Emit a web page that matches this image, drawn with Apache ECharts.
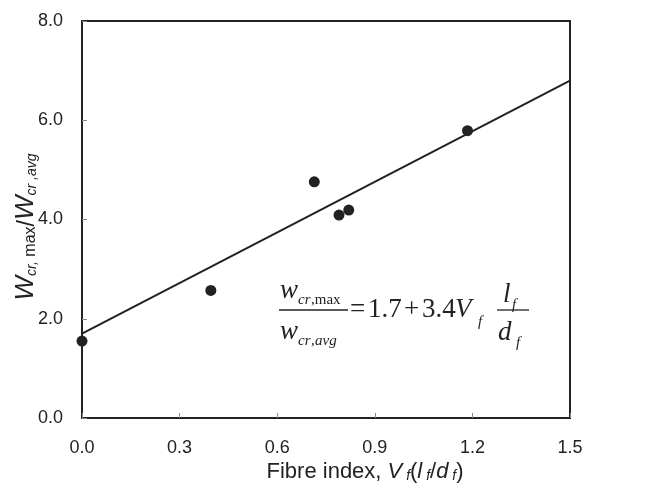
<!DOCTYPE html>
<html>
<head>
<meta charset="utf-8">
<script src="https://cdn.jsdelivr.net/npm/echarts@6/dist/echarts.min.js"></script>
<style>
html,body{margin:0;padding:0;background:#fff;}
#chart{width:651px;height:489px;}
</style>
</head>
<body>
<div id="chart"></div>
<script>
// Data
const fibreIndex = [0.0, 0.396, 0.714, 0.79, 0.82, 1.185];
const crackRatio = [1.55, 2.57, 4.76, 4.09, 4.19, 5.79];
// Fitted line endpoints (w_max/w_avg = 1.7 + 3.4 Vf lf/df)
const fitX = [0.0, 1.5];
const fitY = [1.7, 6.8];
const xTicks = [0.0, 0.3, 0.6, 0.9, 1.2, 1.5];
const yTicks = [0.0, 2.0, 4.0, 6.0, 8.0];

const ink = '#222';
const sans = '"Liberation Sans", Arial, sans-serif';
const serif = '"Liberation Serif", "Times New Roman", serif';

const chart = echarts.init(document.getElementById('chart'), null, {renderer: 'canvas'});

function t(text, x, y, size, opts) {
  opts = opts || {};
  return {
    type: 'text', x: x, y: y, silent: true,
    style: {
      text: text, fill: ink,
      font: (opts.italic ? 'italic ' : '') + size + 'px ' + (opts.family || serif),
      textAlign: opts.align || 'left', textVerticalAlign: 'bottom'
    }
  };
}

const eqSize = 27, subSize = 15;
const graphics = [
  // numerator
  t('w', 280, 304, eqSize, {italic: true}),
  t('cr', 298, 308, subSize, {italic: true}),
  t(',max', 311, 308, subSize),
  {type: 'line', silent: true, shape: {x1: 279, y1: 310, x2: 348, y2: 310}, style: {stroke: ink, lineWidth: 1.3}},
  // denominator
  t('w', 280, 345, eqSize, {italic: true}),
  t('cr', 298, 349, subSize, {italic: true}),
  t(',', 311, 349, subSize),
  t('avg', 315, 349, subSize, {italic: true}),
  // right-hand side
  t('=', 350, 323, eqSize),
  t('1.7', 368, 323, eqSize),
  t('+', 404, 323, eqSize),
  t('3.4', 422, 323, eqSize),
  t('V', 455, 323, eqSize, {italic: true}),
  t('f', 478, 330, subSize, {italic: true}),
  // second fraction
  t('l', 503, 308, eqSize, {italic: true}),
  t('f', 512, 313, subSize, {italic: true}),
  {type: 'line', silent: true, shape: {x1: 497, y1: 310, x2: 529, y2: 310}, style: {stroke: ink, lineWidth: 1.3}},
  t('d', 498, 346, eqSize, {italic: true}),
  t('f', 516, 351, subSize, {italic: true}),
  // x axis title
  {
    type: 'text', x: 365, y: 471, silent: true,
    style: {
      text: '{n|Fibre index, }{i|V}{s| f}{n|(}{i|l}{s| f}{n|/}{i|d}{s| f}{n|)}',
      textAlign: 'center', textVerticalAlign: 'middle', fill: ink,
      rich: {
        n: {fontSize: 22, fontFamily: sans, fill: ink, verticalAlign: 'bottom', lineHeight: 24},
        i: {fontSize: 22, fontFamily: sans, fontStyle: 'italic', fill: ink, verticalAlign: 'bottom', lineHeight: 24},
        s: {fontSize: 14, fontFamily: sans, fontStyle: 'italic', fill: ink, verticalAlign: 'bottom', lineHeight: 9}
      }
    }
  },
  // y axis title (rotated)
  {
    type: 'text', x: 25, y: 227, rotation: Math.PI / 2, silent: true,
    style: {
      text: '{w|W}{s|cr,}{m| max}{n|/}{w|W}{s|cr ,avg}',
      textAlign: 'center', textVerticalAlign: 'middle', fill: ink,
      rich: {
        w: {fontSize: 26, fontFamily: sans, fontStyle: 'italic', fill: ink, verticalAlign: 'bottom', lineHeight: 28},
        n: {fontSize: 23, fontFamily: sans, fill: ink, verticalAlign: 'bottom', lineHeight: 28},
        s: {fontSize: 14, fontFamily: sans, fontStyle: 'italic', fill: ink, verticalAlign: 'bottom', lineHeight: 10},
        m: {fontSize: 16, fontFamily: sans, fill: ink, verticalAlign: 'bottom', lineHeight: 12}
      }
    }
  }
];

const option = {
  backgroundColor: '#fff',
  animation: false,
  grid: {left: 82, right: 81, top: 21, bottom: 71, show: true, borderColor: ink, borderWidth: 2, backgroundColor: 'transparent'},
  xAxis: {
    type: 'value', min: 0, max: 1.5, interval: 0.3,
    axisLine: {show: true, onZero: false, lineStyle: {color: ink, width: 2}},
    axisTick: {show: true, inside: true, length: 5, lineStyle: {color: '#888', width: 1}},
    axisLabel: {color: ink, fontSize: 18, fontFamily: sans, margin: 21,
      formatter: function (v) { return xTicks.indexOf(+v.toFixed(1)) >= 0 ? v.toFixed(1) : ''; }},
    splitLine: {show: false}
  },
  yAxis: {
    type: 'value', min: 0, max: 8, interval: 2,
    axisLine: {show: true, onZero: false, lineStyle: {color: ink, width: 2}},
    axisTick: {show: true, inside: true, length: 5, lineStyle: {color: '#888', width: 1}},
    axisLabel: {color: ink, fontSize: 18, fontFamily: sans, margin: 19,
      formatter: function (v) { return yTicks.indexOf(+v.toFixed(1)) >= 0 ? v.toFixed(1) : ''; }},
    splitLine: {show: false}
  },
  series: [
    {
      type: 'line', data: fitX.map((x, i) => [x, fitY[i]]),
      showSymbol: false, symbol: 'none', lineStyle: {color: ink, width: 2}, z: 2, silent: true
    },
    {
      type: 'scatter', data: fibreIndex.map((x, i) => [x, crackRatio[i]]),
      symbol: 'circle', symbolSize: 11, itemStyle: {color: ink, opacity: 1}, clip: false, z: 3, silent: true
    }
  ],
  graphic: graphics
};
chart.setOption(option);
</script>
</body>
</html>
